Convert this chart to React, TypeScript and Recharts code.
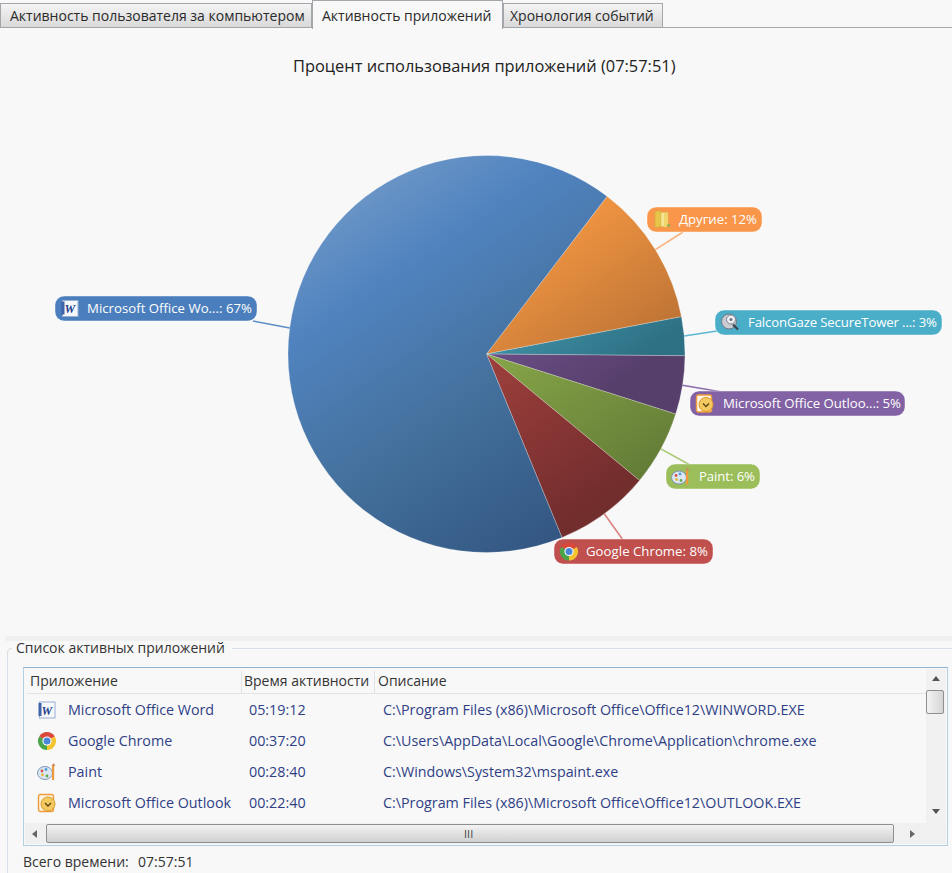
import { PieChart, Pie, Cell } from "recharts";

const FONT = '"Open Sans", sans-serif';
const BG = "#f8f8f8";
const NAVY = "#2f3f86";

// chart data, in drawing order clockwise from the Word / Другие boundary
const sliceNames = ["Другие", "FalconGaze SecureTower ...", "Microsoft Office Outloo...", "Paint", "Google Chrome", "Microsoft Office Wo..."];
const sliceValues = [11.6, 3.15, 4.75, 6.1, 7.8, 66.6];
const sliceIcons = ["folder", "falcon", "outlook", "paint", "chrome", "word"];

const tabLabels = ["Активность пользователя за компьютером", "Активность приложений", "Хронология событий"];
const columnLabels = ["Приложение", "Время активности", "Описание"];
const appNames = ["Microsoft Office Word", "Google Chrome", "Paint", "Microsoft Office Outlook"];
const appTimes = ["05:19:12", "00:37:20", "00:28:40", "00:22:40"];
const appPaths = [
  "C:\\Program Files (x86)\\Microsoft Office\\Office12\\WINWORD.EXE",
  "C:\\Users\\AppData\\Local\\Google\\Chrome\\Application\\chrome.exe",
  "C:\\Windows\\System32\\mspaint.exe",
  "C:\\Program Files (x86)\\Microsoft Office\\Office12\\OUTLOOK.EXE",
];
const appIcons = ["word", "chrome", "paint", "outlook"];

// look of each slice: gradient stops [offset, colour]
const sliceShades: [number, string][][] = [
  [[0.4, "#ec9241"], [0.7, "#bb7234"]],
  [[0.5, "#3f8fa4"], [0.7, "#2e7084"]],
  [[0.5, "#6b4f87"], [0.72, "#573f6c"]],
  [[0.55, "#84a247"], [0.9, "#647d37"]],
  [[0.55, "#9a3e3b"], [0.9, "#722d2d"]],
  [[0.05, "#7099c8"], [0.27, "#5083bf"], [0.55, "#45729f"], [0.95, "#31547f"]],
];
const labelFill = ["#f9964a", "#4aaec8", "#8262a4", "#9bbd5a", "#c0504d", "#4a7ebc"];
const labelLine = ["#fab07a", "#5cb8d0", "#8a6cac", "#a9c873", "#d77f7c", "#5b8cc6"];
// label boxes [x, y, w, textX, textW, anchorX, anchorY]
const labelBox = [
  [647, 207, 115, 679, 78, 683, 232],
  [715, 310, 227, 748, 189, 717, 331],
  [690, 391, 215, 723, 178, 722, 392],
  [666, 464, 94, 699, 56, 690, 465],
  [554, 539, 159, 586, 122, 623, 540],
  [55, 296, 202, 87, 165, 253, 321],
];

function Icon({ kind }: { kind: string }) {
  if (kind === "word")
    return (
      <g>
        <rect x="2.5" y="2" width="15.5" height="16" fill="#f6f8fc" stroke="#9aaed2" />
        <rect x="1.5" y="3" width="3" height="13" fill="#3f62a8" />
        <text x="4.5" y="14.5" fontSize="12" fontWeight="700" fontStyle="italic" fill="#24408c" fontFamily="Liberation Serif">W</text>
      </g>
    );
  if (kind === "folder")
    return (
      <g>
        <path d="M3 2l6 -1v16l-6 1z" fill="#e6c54a" stroke="#c9a53a" strokeWidth="0.5" />
        <path d="M9 3h7v14h-7z" fill="#f6e592" stroke="#d8bd5a" strokeWidth="0.5" />
        <path d="M12 3l4 1v13l-4 1z" fill="#efd56c" />
        <path d="M15 15h3v2h-3z" fill="#7fb04a" />
      </g>
    );
  if (kind === "falcon")
    return (
      <g>
        <circle cx="9" cy="9" r="7.5" fill="#c9ccd2" stroke="#6f7480" />
        <circle cx="11" cy="7" r="4.5" fill="#eef0f3" stroke="#7d8390" />
        <circle cx="11" cy="7" r="1.5" fill="#69707c" />
        <path d="M13 12l5 5" stroke="#3b4250" strokeWidth="2.2" />
      </g>
    );
  if (kind === "outlook")
    return (
      <g>
        <rect x="1.5" y="1.5" width="15" height="17" rx="2" fill="#fff4e2" stroke="#ef9b3c" strokeWidth="1.4" />
        <circle cx="11" cy="11" r="7" fill="#f4c95f" stroke="#d99a2f" />
        <path d="M8 10l3 3 3 -3" fill="none" stroke="#5e4a18" strokeWidth="1.5" />
      </g>
    );
  if (kind === "paint")
    return (
      <g>
        <ellipse cx="8" cy="11" rx="7.5" ry="6.5" fill="#dbe7f2" stroke="#7e97b5" />
        <circle cx="5" cy="9" r="1.4" fill="#d9534a" />
        <circle cx="9" cy="7.5" r="1.4" fill="#4d9fd8" />
        <circle cx="5.5" cy="13" r="1.4" fill="#e8b63c" />
        <circle cx="10" cy="14" r="1.4" fill="#62a84a" />
        <rect x="15" y="4" width="2.2" height="14" fill="#ef9a3a" />
        <path d="M14.5 4l2 -3 2 3z" fill="#c98d5e" />
      </g>
    );
  // chrome
  return (
    <g>
      <path d="M10 10L2.2 5.5A9 9 0 0 1 17.8 5.5z" fill="#d9483b" />
      <path d="M10 10L17.8 5.5A9 9 0 0 1 10 19z" fill="#f2c430" />
      <path d="M10 10L10 19A9 9 0 0 1 2.2 5.5z" fill="#4aa54a" />
      <circle cx="10" cy="10" r="4.6" fill="#fff" />
      <circle cx="10" cy="10" r="3.5" fill="#4a86d8" />
    </g>
  );
}

function SliceLabel(props: any) {
  const { cx, cy, midAngle, outerRadius, percent, index } = props;
  const [x, y, w, textX, textW, ax, ay] = labelBox[index];
  const rad = (midAngle * Math.PI) / 180;
  const ex = cx + outerRadius * Math.cos(rad);
  const ey = cy - outerRadius * Math.sin(rad);
  return (
    <g>
      <line x1={ex} y1={ey} x2={ax} y2={ay} stroke={labelLine[index]} strokeWidth={1.5} />
      <rect x={x} y={y} width={w} height={25} rx={9} fill={labelFill[index]} stroke="#ffffff" strokeOpacity={0.45} />
      <g transform={`translate(${x + 5},${y + 2.5})`}>
        <Icon kind={sliceIcons[index]} />
      </g>
      <text x={textX} y={y + 17} fill="#ffffff" fontSize={13.2} fontFamily={FONT} textLength={textW}>
        {`${sliceNames[index]}: ${Math.round(percent * 100)}%`}
      </text>
    </g>
  );
}

function Txt({ x, y, size = 14, color = "#333", children }: any) {
  return (
    <div style={{ position: "absolute", left: x, top: y, fontSize: size, color, lineHeight: "18px", whiteSpace: "nowrap" }}>
      {children}
    </div>
  );
}

function Box({ x, y, w, h, style }: any) {
  return <div style={{ position: "absolute", left: x, top: y, width: w, height: h, boxSizing: "border-box", ...style }} />;
}

const tabs = [
  { x: 0, w: 312, top: 3, textX: 10 },
  { x: 312, w: 191, top: 0, textX: 322 },
  { x: 503, w: 160, top: 3, textX: 510 },
];
const rowY = [701, 732, 763, 794];

export default function App() {
  const pieData = sliceNames.map((name, i) => ({ name, value: sliceValues[i] }));

  return (
    <div style={{ position: "absolute", left: 0, top: 0, width: 952, height: 873, overflow: "hidden", background: BG, fontFamily: FONT }}>
      <Box x={0} y={27} w={952} h={1} style={{ background: "#a3a6aa" }} />
      {tabs.map((t, i) => (
        <Box
          key={t.x}
          x={t.x}
          y={t.top}
          w={t.w}
          h={i === 1 ? 29 : 25}
          style={{
            border: "1px solid #a3a6aa",
            borderBottom: i === 1 ? "none" : "1px solid #a3a6aa",
            background: i === 1 ? BG : "linear-gradient(#f4f4f4, #d9d9d9)",
          }}
        />
      ))}
      {tabLabels.map((t, i) => (
        <Txt key={t} x={tabs[i].textX} y={7} size={14} color="#2a2a2a">{t}</Txt>
      ))}

      <Txt x={293} y={57} size={16.4} color="#222">Процент использования приложений (07:57:51)</Txt>

      <div style={{ position: "absolute", left: 0, top: 0 }}>
        <PieChart width={952} height={620} margin={{ top: 0, right: 0, bottom: 0, left: 0 }}>
          <defs>
            {sliceShades.map((s, i) => (
              <linearGradient key={i} id={`shade${i}`} gradientUnits="userSpaceOnUse" x1={330} y1={160} x2={600} y2={560}>
                {s.map(([offset, color]) => (
                  <stop key={offset} offset={offset} stopColor={color} />
                ))}
              </linearGradient>
            ))}
          </defs>
          <Pie
            data={pieData}
            dataKey="value"
            nameKey="name"
            cx={486.5}
            cy={354}
            outerRadius={198.5}
            startAngle={52.6}
            endAngle={-307.4}
            stroke="#ffffff"
            strokeOpacity={0.3}
            strokeWidth={0.8}
            label={SliceLabel}
            labelLine={false}
            isAnimationActive={false}
          >
            {pieData.map((d, i) => (
              <Cell key={d.name} fill={`url(#shade${i})`} />
            ))}
          </Pie>
        </PieChart>
      </div>

      {/* group box */}
      <Box x={5} y={636} w={947} h={5} style={{ background: "#f0f0f0" }} />
      <Box x={7} y={648} w={960} h={240} style={{ border: "1px solid #d8dfe6", borderRadius: 4 }} />
      <Box x={12} y={641} w={220} h={15} style={{ background: BG }} />
      <Txt x={16} y={639} size={14} color="#333">Список активных приложений</Txt>

      {/* list */}
      <Box x={23} y={667} w={925} h={179} style={{ border: "1px solid #b5cfe2", borderTopColor: "#8fb4d2" }} />
      <Box x={27} y={693} w={899} h={1} style={{ background: "#e2e3e5" }} />
      <Box x={241} y={671} w={1} h={22} style={{ background: "#e2e3e5" }} />
      <Box x={374} y={671} w={1} h={22} style={{ background: "#e2e3e5" }} />
      {columnLabels.map((c, i) => (
        <Txt key={c} x={[30, 244, 378][i]} y={672} size={14} color="#333">{c}</Txt>
      ))}
      {appNames.map((name, i) => (
        <div key={name}>
          <svg style={{ position: "absolute", left: 37, top: rowY[i] - 1 }} width={20} height={20}>
            <Icon kind={appIcons[i]} />
          </svg>
          <Txt x={68} y={rowY[i]} size={14.3} color={NAVY}>{name}</Txt>
          <Txt x={249} y={rowY[i]} size={14.3} color={NAVY}>{appTimes[i]}</Txt>
          <Txt x={383} y={rowY[i]} size={14.3} color={NAVY}>{appPaths[i]}</Txt>
        </div>
      ))}

      {/* scrollbars */}
      <Box x={926} y={669} w={20} h={155} style={{ background: "#f1f1f1" }} />
      <Box x={25} y={823} w={921} h={21} style={{ background: "#f0f0f0" }} />
      <Box x={926} y={690} w={18} h={24} style={{ border: "1px solid #8e8f8f", borderRadius: 2, background: "linear-gradient(90deg,#f3f3f3,#d5d5d5)" }} />
      <Box x={46} y={824} w={848} h={19} style={{ border: "1px solid #8e8f8f", borderRadius: 2, background: "linear-gradient(#f3f3f3,#cfcfcf)" }} />
      <Txt x={464} y={825} size={11} color="#444">III</Txt>
      <svg style={{ position: "absolute", left: 0, top: 0 }} width={952} height={873}>
        <path d="M932 681l4 -5 4 5z" fill="#555" />
        <path d="M932 809l4 5 4 -5z" fill="#555" />
        <path d="M37 830l-5 4 5 4z" fill="#666" />
        <path d="M910 830l5 4 -5 4z" fill="#666" />
      </svg>
      <Txt x={23} y={853} size={14} color="#333">Всего времени:</Txt>
      <Txt x={138} y={853} size={14} color="#333">07:57:51</Txt>
    </div>
  );
}
